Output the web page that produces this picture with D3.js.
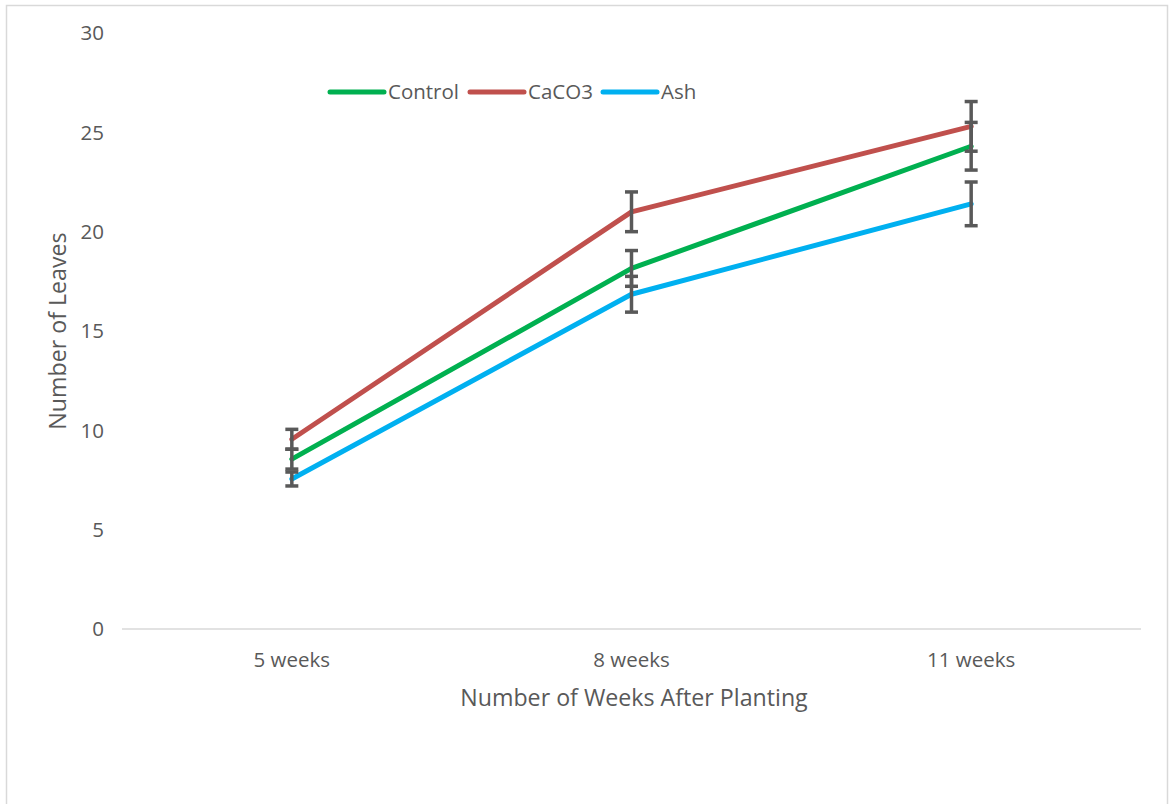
<!DOCTYPE html>
<html><head><meta charset="utf-8">
<script src="https://cdn.jsdelivr.net/npm/d3@7"></script>
<style>body{margin:0;background:#fff;}svg{display:block;font-family:"Open Sans",Lato,sans-serif;}</style>
</head><body>
<svg id="c" width="1170" height="804"></svg>
<script>
const categories = ["5 weeks", "8 weeks", "11 weeks"];
const seriesNames = ["Control", "CaCO3", "Ash"];
const controlValues = [8.55, 18.15, 24.3];
const caco3Values = [9.55, 21.0, 25.3];
const ashValues = [7.55, 16.85, 21.4];
const controlErr = [0.5, 0.9, 1.2];
const caco3Err = [0.5, 1.0, 1.25];
const ashErr = [0.35, 0.9, 1.1];
const yTicks = [0, 5, 10, 15, 20, 25, 30];
const colors = ["#00B050", "#C0504D", "#00B0F0"];

const series = [
  {name: seriesNames[0], values: controlValues, err: controlErr, color: colors[0]},
  {name: seriesNames[1], values: caco3Values, err: caco3Err, color: colors[1]},
  {name: seriesNames[2], values: ashValues, err: ashErr, color: colors[2]}
];

const svg = d3.select("#c");
svg.append("rect").attr("x", 6.5).attr("y", 5.5).attr("width", 1161).attr("height", 805)
  .attr("fill", "#fff").attr("stroke", "#d9d9d9").attr("stroke-width", 1.5);

const x = d3.scaleBand().domain(categories).range([122, 1141]).padding(0);
const y = d3.scaleLinear().domain([0, 30]).range([629, 33]);
const cx = c => x(c) + x.bandwidth() / 2;

// x axis line
svg.append("line").attr("x1", 122).attr("x2", 1141).attr("y1", y(0)).attr("y2", y(0))
  .attr("stroke", "#d9d9d9").attr("stroke-width", 1.5);

// y tick labels
svg.selectAll(".yt").data(yTicks).enter().append("text")
  .attr("x", 104).attr("y", d => y(d)).attr("dy", "0.35em")
  .attr("text-anchor", "end").attr("fill", "#595959").attr("font-size", 20.5).text(d => d);

// x tick labels
svg.selectAll(".xt").data(categories).enter().append("text")
  .attr("x", d => cx(d)).attr("y", 660).attr("dy", "0.35em")
  .attr("text-anchor", "middle").attr("fill", "#595959").attr("font-size", 20.5).text(d => d);

// axis titles
svg.append("text").attr("x", 634).attr("y", 698).attr("dy", "0.35em").attr("text-anchor", "middle")
  .attr("fill", "#595959").attr("font-size", 23.2).text("Number of Weeks After Planting");
svg.append("text").attr("transform", "translate(58,331) rotate(-90)").attr("dy", "0.35em")
  .attr("text-anchor", "middle").attr("fill", "#595959").attr("font-size", 23.2).text("Number of Leaves");

// lines
const line = d3.line().x((d, i) => cx(categories[i])).y(d => y(d));
series.forEach(s => {
  svg.append("path").attr("d", line(s.values)).attr("fill", "none")
    .attr("stroke", s.color).attr("stroke-width", 5).attr("stroke-linejoin", "round").attr("stroke-linecap", "round");
});

// error bars
series.forEach(s => {
  s.values.forEach((v, i) => {
    const px = cx(categories[i]);
    const g = svg.append("g").attr("stroke", "#595959").attr("stroke-width", 3.5);
    g.append("line").attr("x1", px).attr("x2", px).attr("y1", y(v + s.err[i])).attr("y2", y(v - s.err[i]));
    [v + s.err[i], v - s.err[i]].forEach(e => {
      g.append("line").attr("x1", px - 6.5).attr("x2", px + 6.5).attr("y1", y(e)).attr("y2", y(e));
    });
  });
});

// legend
const legX = [330, 470, 603];
series.forEach((s, i) => {
  svg.append("line").attr("x1", legX[i]).attr("x2", legX[i] + 54).attr("y1", 92).attr("y2", 92)
    .attr("stroke", s.color).attr("stroke-width", 5).attr("stroke-linecap", "round");
  svg.append("text").attr("x", legX[i] + 58).attr("y", 92).attr("dy", "0.35em")
    .attr("fill", "#595959").attr("font-size", 20.5).text(s.name);
});
</script>
</body></html>
